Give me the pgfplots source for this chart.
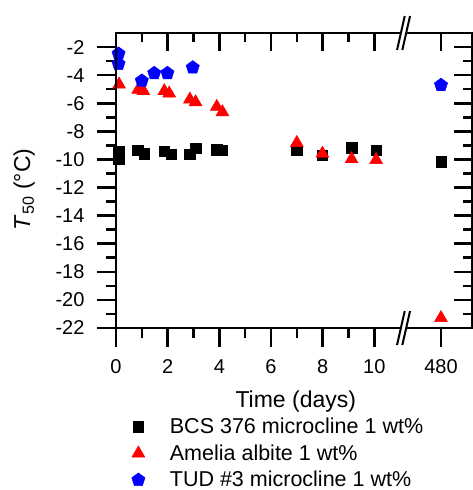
\documentclass[border=0pt]{standalone}
\usepackage{fontspec}
\setmainfont{Liberation Sans}
\usepackage{pgfplots}
\pgfplotsset{compat=1.18}
\begin{document}
\begin{tikzpicture}
\path[use as bounding box] (-116pt,-162pt) rectangle (357pt,328pt);
\begin{axis}[
  name=main, at={(0pt,0pt)}, anchor=south west,
  scale only axis, width=356pt, height=295pt,
  xmin=0, xmax=13.78, ymin=-22, ymax=-1,
  axis on top,
  axis line style={line width=2.6pt},
  every tick/.style={line width=2.6pt, black},
  major tick length=19pt, minor tick length=10pt,
  tick align=outside,
  xtick pos=left, ytick pos=left,
  xtick={0,2,4,6,8,10,12.58}, xticklabels={0,2,4,6,8,10,480},
  minor xtick={1,3,5,7,9},
  ytick={-22,-20,...,-2}, minor ytick={-21,-19,...,-3},
  /pgf/number format/assume math mode=true,
  tick label style={font=\fontsize{20}{24}\selectfont},
  yticklabel style={xshift=-9pt},
  xticklabel style={yshift=-9pt},
  label style={font=\fontsize{23}{27}\selectfont},
  xlabel={Time (days)},
  ylabel={\textit{T}\textsubscript{50} (°C)},
  xlabel style={at={(axis description cs:0.505,-0.25)}, anchor=center},
  ylabel style={at={(axis description cs:-0.258,0.47)}, anchor=center},
  legend style={at={(axis description cs:0,0)}, anchor=north west,
    xshift=10.2pt, yshift=-90pt, draw=none, fill=none, inner sep=0pt,
    row sep=9.5pt, font=\fontsize{21.5}{24}\selectfont,
    nodes={inner xsep=3.5pt, inner ysep=0pt}},
  legend cell align=left,
  legend image code/.code={\path[draw=none,fill=none] (0pt,-5pt) rectangle (40pt,5pt); \draw[mark repeat=2,mark phase=2,#1] plot coordinates {(0pt,0pt) (12pt,0pt) (40pt,0pt)};},
]
\addplot[only marks, mark=square*, mark size=5.2pt, black, mark options={line width=0.4pt}] coordinates {
 (0.10,-9.41) (0.10,-10.0) (0.84,-9.36) (1.10,-9.6) (1.87,-9.4) (2.13,-9.64)
 (2.86,-9.64) (3.08,-9.2) (3.90,-9.3) (4.12,-9.35) (7.00,-9.33) (7.99,-9.69)
 (9.12,-9.17) (10.07,-9.33) (12.58,-10.17)
};
\addlegendentry{BCS 376 microcline 1 wt\%}
\addplot[only marks, mark=triangle*, mark size=7.5pt, red, mark options={line width=0.4pt}] coordinates {
 (0.12,-4.66) (0.86,-5.03) (1.06,-5.13) (1.87,-5.13) (2.06,-5.30) (2.86,-5.73)
 (3.08,-5.92) (3.90,-6.25) (4.12,-6.63) (7.00,-8.82) (7.99,-9.58) (9.12,-9.97)
 (10.07,-10.03) (12.58,-21.28)
};
\addlegendentry{Amelia albite 1 wt\%}
\addplot[only marks, mark=pentagon*, mark size=7pt, blue, mark options={line width=0.4pt}] coordinates {
 (0.10,-2.48) (0.10,-3.2) (1.00,-4.4) (1.48,-3.86) (1.99,-3.86) (2.97,-3.46) (12.58,-4.71)
};
\addlegendentry{TUD \#3 microcline 1 wt\%}
\coordinate (bb) at (axis cs:11.13,-22);
\coordinate (bt) at (axis cs:11.13,-1);
\end{axis}
\begin{axis}[
  at={(0pt,0pt)}, anchor=south west,
  scale only axis, width=356pt, height=295pt,
  xmin=0, xmax=13.78, ymin=-22, ymax=-1,
  axis line style={line width=2.6pt},
  every tick/.style={line width=2.6pt, black},
  major tick length=18pt, minor tick length=9pt,
  tick align=inside,
  xtick pos=right, ytick pos=right,
  xtick={0,2,4,6,8,10,12.58}, xticklabels={},
  minor xtick={1,3,5,7,9},
  ytick={-22,-20,...,-2}, minor ytick={-21,-19,...,-3}, yticklabels={},
]
\end{axis}
\foreach \c in {bb,bt} {
  \fill[white] ([shift={(-3.3pt,-3pt)}]\c) -- ([shift={(2.0pt,-3pt)}]\c) -- ([shift={(3.3pt,3pt)}]\c) -- ([shift={(-2.0pt,3pt)}]\c) -- cycle;
  \draw[line width=2pt] ([shift={(-6.5pt,-17pt)}]\c) -- ([shift={(1.2pt,17pt)}]\c);
  \draw[line width=2pt] ([shift={(-1.2pt,-17pt)}]\c) -- ([shift={(6.5pt,17pt)}]\c);
}
\end{tikzpicture}
\end{document}
